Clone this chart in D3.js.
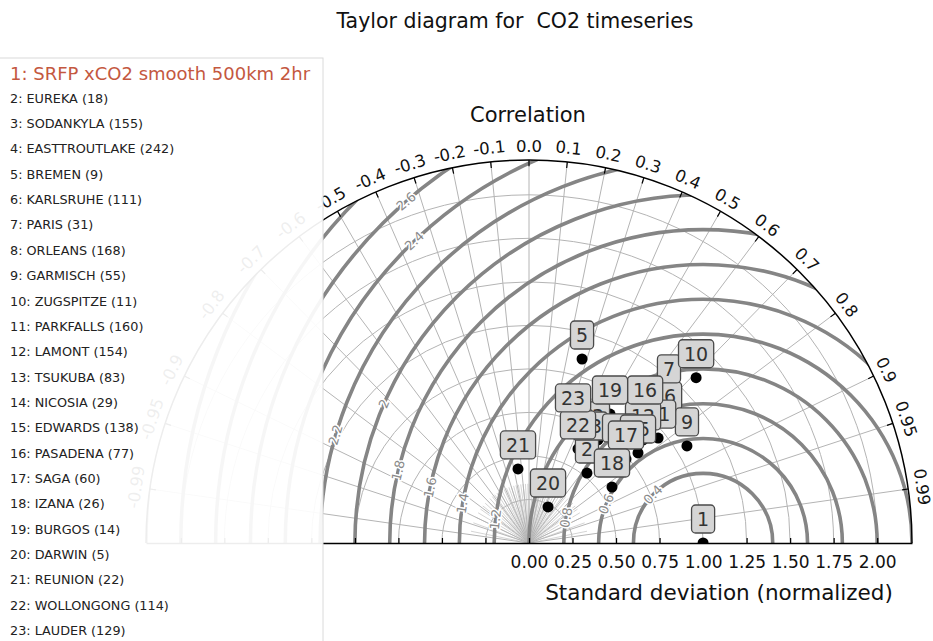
<!DOCTYPE html>
<html><head><meta charset="utf-8">
<script src="https://cdn.jsdelivr.net/npm/d3@7"></script>
<style>
body{margin:0;background:#fff;}
svg{display:block;font-family:"DejaVu Sans",sans-serif;}
</style>
</head><body>
<svg id="c" width="933" height="641"></svg>
<script>
// ---------------- data ----------------
const stations = ["SRFP xCO2 smooth 500km 2hr","EUREKA (18)","SODANKYLA (155)","EASTTROUTLAKE (242)","BREMEN (9)",
  "KARLSRUHE (111)","PARIS (31)","ORLEANS (168)","GARMISCH (55)","ZUGSPITZE (11)","PARKFALLS (160)","LAMONT (154)",
  "TSUKUBA (83)","NICOSIA (29)","EDWARDS (138)","PASADENA (77)","SAGA (60)","IZANA (26)","BURGOS (14)","DARWIN (5)",
  "REUNION (22)","WOLLONGONG (114)","LAUDER (129)"];
const stdDev      = [1.00,0.522,0.713,0.63,1.10,1.075,1.179,0.961,1.065,1.35,0.956,0.883,0.639,0.74,0.812,0.997,0.737,0.575,0.875,0.234,0.43,0.609,0.74];
const correlation = [1.00,0.638,0.556,0.465,0.277,0.754,0.682,0.664,0.852,0.711,0.776,0.742,0.549,0.707,0.771,0.669,0.756,0.829,0.532,0.467,-0.147,0.462,0.342];
const stdTicks  = [0,0.25,0.5,0.75,1.0,1.25,1.5,1.75,2.0];
const corrTicks = [0,0.1,0.2,0.3,0.4,0.5,0.6,0.7,0.8,0.9,0.95,0.99];
const rmsLevels = [0.4,0.6,0.8,1.0,1.2,1.4,1.6,1.8,2.0,2.2,2.4,2.6,2.8,3.0,3.2];
const rmsLabels = [0.4,0.6,0.8,1.2,1.4,1.6,1.8,2.0,2.2,2.4,2.6];
const titleText = "Taylor diagram for  CO2 timeseries";

// ---------------- layout ----------------
const svg = d3.select("#c");
const cx = 529, cy = 543, Rmax = 2.2, Rpx = 383;
const r = d3.scaleLinear().domain([0, Rmax]).range([0, Rpx]);
const x = d3.scaleLinear().domain([-Rmax, Rmax]).range([cx - Rpx, cx + Rpx]);
const pol = (s, c) => [cx + r(s) * c, cy - r(s) * Math.sqrt(Math.max(0, 1 - c * c))];
const fmt = (f) => (v) => d3.format(f)(v).replace("\u2212", "-");

const defs = svg.append("defs");
defs.append("clipPath").attr("id","semi").append("path")
  .attr("d", `M${cx-Rpx},${cy} A${Rpx},${Rpx} 0 0 1 ${cx+Rpx},${cy} Z`);

const g = svg.append("g");
const gc = g.append("g").attr("clip-path","url(#semi)");

// fan of fine rays near origin
const fan = d3.range(-0.98, 0.99, 0.04);
gc.selectAll("line.fan").data(fan).join("line")
  .attr("x1",cx).attr("y1",cy)
  .attr("x2",d=>pol(0.34,d)[0]).attr("y2",d=>pol(0.34,d)[1])
  .attr("stroke","#cfcfcf").attr("stroke-width",0.9);

// std circles (thin)
gc.selectAll("circle.std").data(d3.range(0.25, 2.2, 0.25)).join("circle")
  .attr("cx",cx).attr("cy",cy).attr("r",d=>r(d))
  .attr("fill","none").attr("stroke","#b4b4b4").attr("stroke-width",1);

// radial correlation lines
const allCorr = corrTicks.concat(corrTicks.filter(d=>d>0).map(d=>-d));
gc.selectAll("line.rad").data(allCorr).join("line")
  .attr("x1",cx).attr("y1",cy)
  .attr("x2",d=>pol(Rmax,d)[0]).attr("y2",d=>pol(Rmax,d)[1])
  .attr("stroke","#b4b4b4").attr("stroke-width",1);

// RMS arcs (thick)
const refX = x(1.0);
gc.selectAll("circle.rms").data(rmsLevels).join("circle")
  .attr("cx",refX).attr("cy",cy).attr("r",d=>r(d))
  .attr("fill","none").attr("stroke","#858585").attr("stroke-width",3.6);

// RMS labels
const labAng = {0.4:136,0.6:158,0.8:169.5,1.2:173.5,1.4:170.6,1.6:168.5,1.8:166.6,2.0:156.4,2.2:163.6,2.4:133.7,2.6:131};
g.selectAll("text.rmsl").data(rmsLabels).join("text")
  .attr("transform",d=>{const a=labAng[d]*Math.PI/180;
     const px=refX+r(d)*Math.cos(a), py=cy-r(d)*Math.sin(a);
     return `translate(${px},${py}) rotate(${90-labAng[d]})`;})
  .attr("text-anchor","middle").attr("dominant-baseline","central")
  .attr("font-size",13).attr("fill","#8a8a8a")
  .attr("stroke","#fff").attr("stroke-width",3).attr("paint-order","stroke")
  .text(d=>d3.format("~g")(d));

// outer arc
g.append("path")
  .attr("d", `M${cx-Rpx},${cy} A${Rpx},${Rpx} 0 0 1 ${cx+Rpx},${cy}`)
  .attr("fill","none").attr("stroke","#000").attr("stroke-width",1.5);

// correlation ticks + labels
g.selectAll("line.ct").data(allCorr).join("line")
  .attr("x1",d=>pol(Rmax,d)[0]).attr("y1",d=>pol(Rmax,d)[1])
  .attr("x2",d=>pol(Rmax*0.984,d)[0]).attr("y2",d=>pol(Rmax*0.984,d)[1])
  .attr("stroke","#000").attr("stroke-width",1.2);
g.selectAll("text.cl").data(allCorr).join("text")
  .attr("transform",d=>{const p=pol(Rmax*1.036,d); const th=Math.acos(d)*180/Math.PI;
     return `translate(${p[0]},${p[1]}) rotate(${90-th})`;})
  .attr("text-anchor","middle").attr("dominant-baseline","central")
  .attr("font-size",16.5).attr("fill","#111")
  .text(d=>fmt(Math.abs(d)===0.95||Math.abs(d)===0.99?".2f":".1f")(d));

// std axis
const allStd = stdTicks.concat(stdTicks.filter(d=>d>0).map(d=>-d)).sort((a,b)=>a-b);
const ax = g.append("g").attr("transform",`translate(0,${cy})`)
  .call(d3.axisBottom(x).tickValues(allStd).tickSizeInner(-5).tickSizeOuter(0).tickPadding(13)
     .tickFormat(d=>d>=0?d3.format(".2f")(d):""));
ax.select(".domain").attr("stroke","#000").attr("stroke-width",1.5);
ax.selectAll(".tick line").attr("stroke","#000").attr("stroke-width",1.2);
ax.selectAll(".tick text").attr("font-size",17).attr("fill","#111").attr("font-family","DejaVu Sans");

// points (clipped to the diagram)
gc.selectAll("circle.pt").data(stdDev).join("circle")
  .attr("cx",(d,i)=>pol(d,correlation[i])[0]).attr("cy",(d,i)=>pol(d,correlation[i])[1])
  .attr("r",5.5).attr("fill","#000");

// annotation boxes
stdDev.forEach((s,i)=>{
  const p = pol(s, correlation[i]);
  const lg = g.append("g").attr("transform",`translate(${p[0]},${p[1]-24})`);
  const rect = lg.append("rect").attr("fill","#d5d5d5").attr("stroke","#4a4a4a").attr("stroke-width",1.3).attr("rx",4);
  const t = lg.append("text").attr("text-anchor","middle").attr("dominant-baseline","central")
    .attr("font-size",19).attr("fill","#333").text(i+1);
  const w = t.node().getComputedTextLength() + 11;
  rect.attr("x",-w/2).attr("y",-14).attr("width",w).attr("height",28);
});

// axis titles
g.append("text").attr("x",528).attr("y",122).attr("text-anchor","middle").attr("font-size",21).attr("fill","#111").text("Correlation");
g.append("text").attr("x",719).attr("y",600).attr("text-anchor","middle").attr("font-size",21.5).attr("fill","#111").text("Standard deviation (normalized)");
svg.append("text").attr("x",515).attr("y",28).attr("text-anchor","middle").attr("font-size",20.5).attr("fill","#111")
  .style("white-space","pre").attr("xml:space","preserve").text(titleText);

// legend (semi-transparent box)
const leg = svg.append("g");
leg.append("rect").attr("x",-2).attr("y",58).attr("width",325).attr("height",600)
  .attr("fill","#fff").attr("fill-opacity",0.93).attr("stroke","#dadada").attr("stroke-width",1);
leg.selectAll("text").data(stations).join("text")
  .attr("x",10)
  .attr("y",(d,i)=> i===0 ? 79.5 : 102.7 + (i-1)*25.35)
  .attr("font-size",(d,i)=> i===0 ? 18 : 12.8)
  .attr("fill",(d,i)=> i===0 ? "#c4583f" : "#222")
  .text((d,i)=>`${i+1}: ${d}`);
</script>
</body></html>
